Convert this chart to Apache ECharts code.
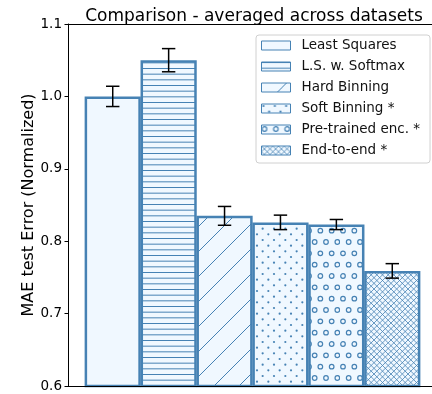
<!DOCTYPE html>
<html>
<head>
<meta charset="utf-8">
<script src="https://cdn.jsdelivr.net/npm/echarts@6/dist/echarts.min.js"></script>
<style>
html,body{margin:0;padding:0;background:#fff;}
#chart{width:432px;height:394px;}
</style>
</head>
<body>
<div id="chart"></div>
<script>
const categories = ['Least Squares', 'L.S. w. Softmax', 'Hard Binning', 'Soft Binning *', 'Pre-trained enc. *', 'End-to-end *'];
const positions = [0, 1, 2, 3, 4, 5];
const values = [1.000, 1.050, 0.835, 0.826, 0.823, 0.759];
const errors = [0.014, 0.016, 0.013, 0.010, 0.007, 0.010];
const yTicks = [0.6, 0.7, 0.8, 0.9, 1.0, 1.1];

const EDGE = '#4682b4';
const FILL = '#f0f8ff';
const HATCH = '#4682b4';
const FONT = '"DejaVu Sans", "Noto Sans", sans-serif';

function tile(w, h, draw) {
  const c = document.createElement('canvas');
  c.width = w; c.height = h;
  const g = c.getContext('2d');
  g.fillStyle = FILL; g.fillRect(0, 0, w, h);
  g.strokeStyle = HATCH; g.fillStyle = HATCH;
  draw(g, w, h);
  return { image: c, repeat: 'repeat' };
}

const patterns = [
  FILL,
  tile(4, 17, (g, w, h) => {
    g.lineWidth = 1;
    for (let k = 0; k < 3; k++) {
      const y = 0.5 + k * h / 3;
      g.beginPath(); g.moveTo(0, y); g.lineTo(w, y); g.stroke();
    }
  }),
  tile(25, 25, (g, w, h) => {
    g.lineWidth = 1;
    for (const c of [-w, 0, w]) {
      g.beginPath(); g.moveTo(c, h); g.lineTo(c + w, 0); g.stroke();
    }
  }),
  tile(34, 34, (g, w, h) => {
    const s = w / 3;
    for (let r = 0; r < 6; r++) {
      for (let c = 0; c < 3; c++) {
        const x = c * s + (r % 2) * s / 2 + 2;
        const y = r * s / 2 + 2;
        g.beginPath(); g.arc(x, y, 1.1, 0, Math.PI * 2); g.fill();
      }
    }
  }),
  tile(34, 68, (g, w, h) => {
    const s = w / 3;
    g.lineWidth = 1.2;
    for (let r = 0; r < 6; r++) {
      for (let c = 0; c < 3; c++) {
        const x = c * s + (r % 2) * s / 2 + 3;
        const y = r * s + 4;
        g.beginPath(); g.arc(x, y, 2.3, 0, Math.PI * 2); g.stroke();
      }
    }
  }),
  tile(17, 17, (g, w, h) => {
    const s = w / 3;
    g.lineWidth = 0.8;
    for (let c = -w; c <= 2 * w; c += s) {
      g.beginPath(); g.moveTo(c, h); g.lineTo(c + w, 0); g.stroke();
      g.beginPath(); g.moveTo(c, 0); g.lineTo(c + w, h); g.stroke();
    }
  })
];

const chart = echarts.init(document.getElementById('chart'), null, { renderer: 'canvas' });

const barSeries = categories.map((name, i) => ({
  name: name,
  type: 'bar',
  data: [[positions[i], values[i]]],
  barWidth: 56.2,
  barGap: '-100%',
  clip: true,
  itemStyle: { color: patterns[i], borderColor: EDGE, borderWidth: 2.5 },
  emphasis: { disabled: true },
  z: 2
}));

const errSeries = {
  type: 'custom',
  name: 'err',
  data: positions.map((p, i) => [p, values[i], errors[i]]),
  z: 5,
  renderItem: function (params, api) {
    const x = api.value(0), y = api.value(1), e = api.value(2);
    const top = api.coord([x, y + e]);
    const bot = api.coord([x, y - e]);
    const hw = 6.7;
    const st = { stroke: '#000', lineWidth: 1.5 };
    return {
      type: 'group',
      children: [
        { type: 'line', shape: { x1: top[0], y1: top[1], x2: bot[0], y2: bot[1] }, style: st },
        { type: 'line', shape: { x1: top[0] - hw, y1: top[1], x2: top[0] + hw, y2: top[1] }, style: st },
        { type: 'line', shape: { x1: bot[0] - hw, y1: bot[1], x2: bot[0] + hw, y2: bot[1] }, style: st }
      ]
    };
  }
};

const axisBase = {
  type: 'value',
  min: -0.8,
  max: 5.8,
  axisLine: { show: true, onZero: false, lineStyle: { color: '#000', width: 1 } },
  axisTick: { show: false },
  axisLabel: { show: false },
  splitLine: { show: false },
  z: 10
};

chart.setOption({
  animation: false,
  backgroundColor: '#fff',
  title: {
    text: 'Comparison - averaged across datasets',
    left: 249,
    top: 3,
    textAlign: 'center',
    textStyle: { fontFamily: FONT, fontSize: 17, fontWeight: 'normal', color: '#000' }
  },
  legend: {
    data: categories,
    orient: 'vertical',
    left: 256,
    top: 35,
    itemWidth: 29,
    itemHeight: 9,
    itemGap: 6,
    padding: [3, 10, 5, 5],
    borderColor: '#d0d0d0',
    borderWidth: 1,
    borderRadius: 3,
    backgroundColor: 'rgba(255,255,255,0.85)',
    icon: 'rect',
    itemStyle: { borderWidth: 1, borderColor: EDGE },
    textStyle: { fontFamily: FONT, fontSize: 13.5, color: '#111', lineHeight: 15, padding: [0, 0, 0, 6] },
    selectedMode: false,
    z: 10
  },
  grid: { left: 68, width: 369, top: 24, bottom: 8, containLabel: false, outerBoundsMode: 'none' },
  xAxis: [Object.assign({ position: 'bottom' }, axisBase), Object.assign({ position: 'top' }, axisBase)],
  yAxis: {
    type: 'value',
    min: 0.6,
    max: 1.1,
    interval: 0.1,
    name: 'MAE test Error (Normalized)',
    nameLocation: 'middle',
    nameGap: 31.5,
    nameMoveOverlap: false,
    nameTextStyle: { fontFamily: FONT, fontSize: 16, color: '#000' },
    axisLine: { show: true, onZero: false, lineStyle: { color: '#000', width: 1 } },
    axisTick: { show: true, length: 3.5, lineStyle: { color: '#000' } },
    axisLabel: {
      margin: 6,
      fontFamily: FONT,
      fontSize: 13.5,
      color: '#000',
      formatter: v => {
        const t = yTicks.find(k => Math.abs(k - v) < 1e-6);
        return t !== undefined ? t.toFixed(1) : '';
      }
    },
    splitLine: { show: false },
    z: 10
  },
  series: barSeries.concat([errSeries])
});
</script>
</body>
</html>
